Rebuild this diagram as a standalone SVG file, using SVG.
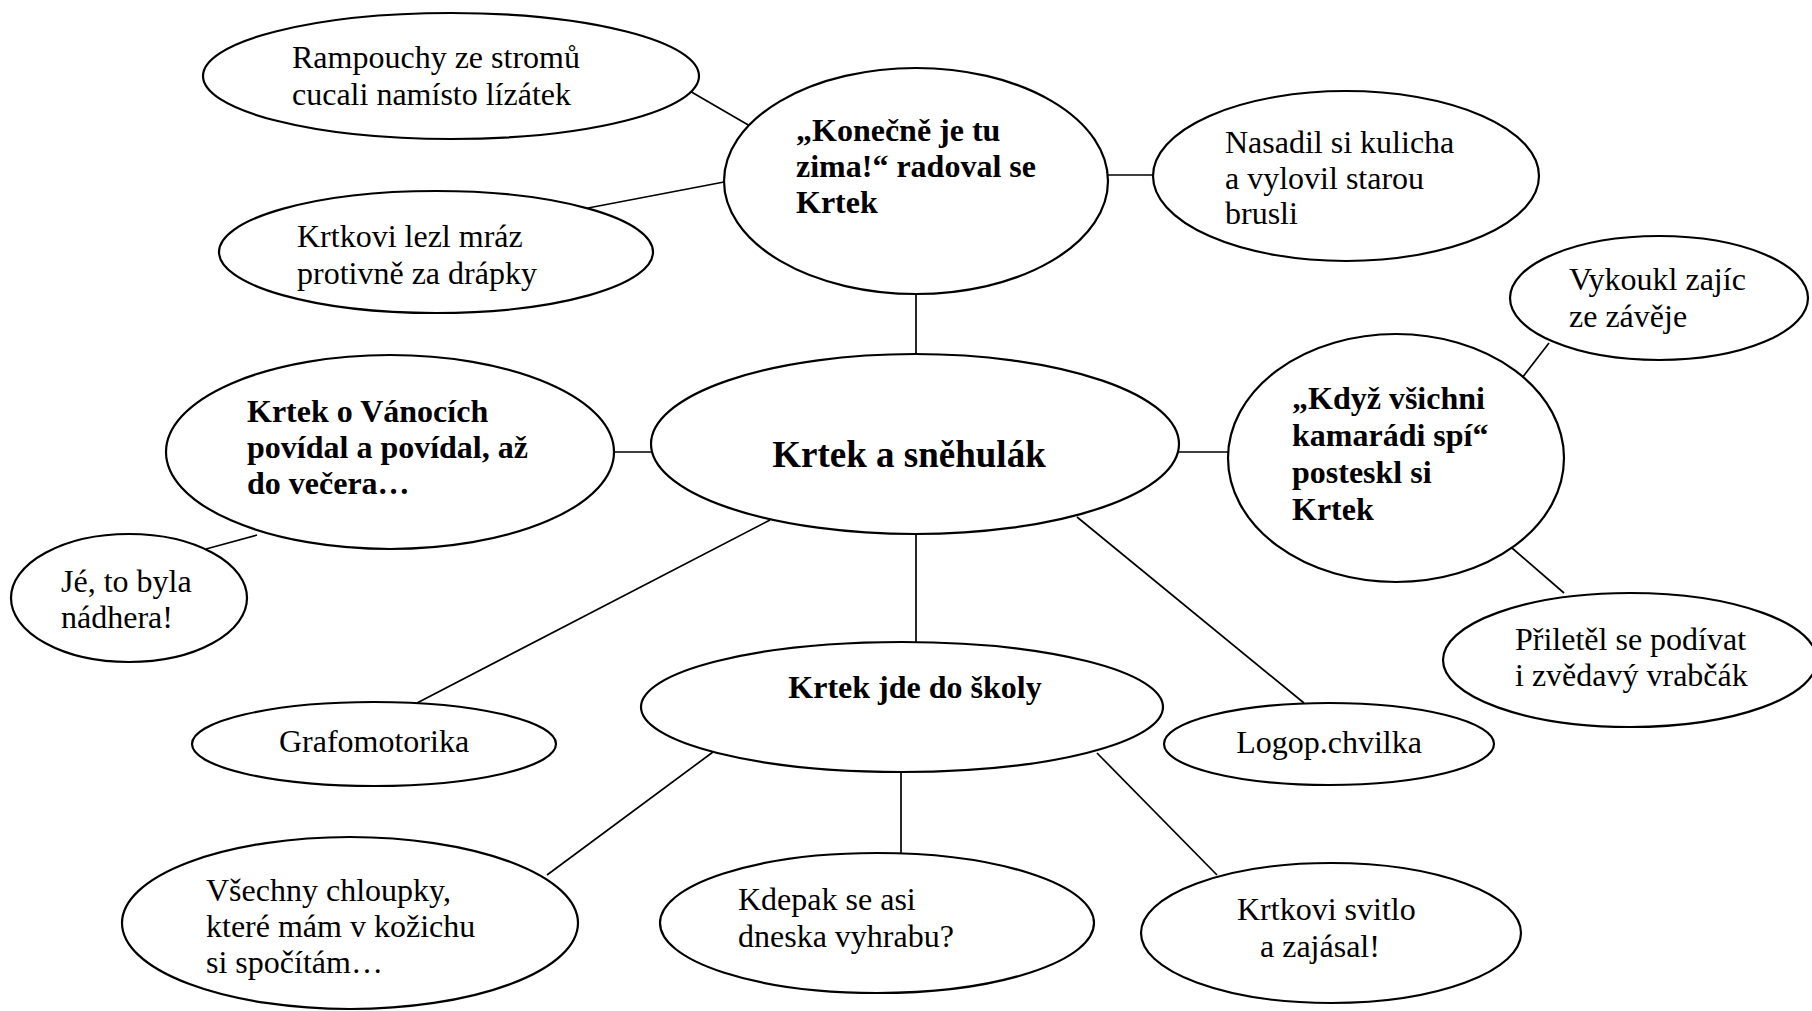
<svg xmlns="http://www.w3.org/2000/svg" width="1812" height="1011" viewBox="0 0 1812 1011">
<style>
  .bg { fill: #ffffff; }
  ellipse { fill: #ffffff; stroke: #000000; stroke-width: 2.2; }
  .conn line { stroke: #000000; stroke-width: 1.7; }
  text { font-family: "Liberation Serif", "Times New Roman", serif; font-size: 32px; fill: #000000; }
  .b { font-weight: bold; }
  .big { font-size: 37px; }
  .m { text-anchor: middle; }
</style>
<rect class="bg" x="0" y="0" width="1812" height="1011"/>

<g id="connectors" class="conn">
  <line x1="688" y1="90" x2="750" y2="126"/>
  <line x1="588" y1="208" x2="724" y2="182"/>
  <line x1="1108" y1="175" x2="1153" y2="175"/>
  <line x1="916" y1="294" x2="916" y2="355"/>
  <line x1="614" y1="452" x2="652" y2="452"/>
  <line x1="257" y1="535" x2="206" y2="549"/>
  <line x1="1179" y1="452" x2="1228" y2="452"/>
  <line x1="1522" y1="378" x2="1549" y2="343"/>
  <line x1="1512" y1="548" x2="1564" y2="593"/>
  <line x1="770" y1="520" x2="417" y2="703"/>
  <line x1="1077" y1="517" x2="1304" y2="703"/>
  <line x1="916" y1="534" x2="916" y2="642"/>
  <line x1="713" y1="752" x2="547" y2="875"/>
  <line x1="901" y1="772" x2="901" y2="853"/>
  <line x1="1097" y1="753" x2="1217" y2="875"/>
</g>

<g id="n-rampouchy">
  <ellipse cx="451" cy="76" rx="248" ry="63"/>
  <text x="292" y="68">Rampouchy ze stromů</text>
  <text x="292" y="105">cucali namísto lízátek</text>
</g>

<g id="n-konecne">
  <ellipse cx="916" cy="181" rx="192" ry="113"/>
  <text class="b" x="796" y="141">„Konečně je tu</text>
  <text class="b" x="796" y="177">zima!“ radoval se</text>
  <text class="b" x="796" y="213">Krtek</text>
</g>

<g id="n-nasadil">
  <ellipse cx="1346" cy="176" rx="193" ry="85"/>
  <text x="1225" y="153">Nasadil si kulicha</text>
  <text x="1225" y="189">a vylovil starou</text>
  <text x="1225" y="224">brusli</text>
</g>

<g id="n-lezl">
  <ellipse cx="436" cy="252" rx="217" ry="61"/>
  <text x="297" y="247">Krtkovi lezl mráz</text>
  <text x="297" y="284">protivně za drápky</text>
</g>

<g id="n-vykoukl">
  <ellipse cx="1659" cy="298" rx="149" ry="62"/>
  <text x="1569" y="290">Vykoukl zajíc</text>
  <text x="1569" y="327">ze závěje</text>
</g>

<g id="n-vanoce">
  <ellipse cx="390" cy="452" rx="224" ry="97"/>
  <text class="b" x="247" y="422">Krtek o Vánocích</text>
  <text class="b" x="247" y="458">povídal a povídal, až</text>
  <text class="b" x="247" y="494">do večera…</text>
</g>

<g id="n-center">
  <ellipse cx="915" cy="444" rx="264" ry="90"/>
  <text class="b big m" x="909" y="467">Krtek a sněhulák</text>
</g>

<g id="n-kdyz">
  <ellipse cx="1396" cy="458" rx="168" ry="124"/>
  <text class="b" x="1292" y="409">„Když všichni</text>
  <text class="b" x="1292" y="446">kamarádi spí“</text>
  <text class="b" x="1292" y="483">posteskl si</text>
  <text class="b" x="1292" y="520">Krtek</text>
</g>

<g id="n-je">
  <ellipse cx="129" cy="598" rx="118" ry="64"/>
  <text x="61" y="592">Jé, to byla</text>
  <text x="61" y="628">nádhera!</text>
</g>

<g id="n-priletel">
  <ellipse cx="1630" cy="660" rx="187" ry="67"/>
  <text x="1515" y="650">Přiletěl se podívat</text>
  <text x="1515" y="686">i zvědavý vrabčák</text>
</g>

<g id="n-skola">
  <ellipse cx="902" cy="707" rx="261" ry="65"/>
  <text class="b m" x="915" y="698">Krtek jde do školy</text>
</g>

<g id="n-grafo">
  <ellipse cx="374" cy="744" rx="182" ry="42"/>
  <text class="m" x="374" y="752">Grafomotorika</text>
</g>

<g id="n-logop">
  <ellipse cx="1329" cy="744" rx="165" ry="41"/>
  <text class="m" x="1329" y="753">Logop.chvilka</text>
</g>

<g id="n-vsechny">
  <ellipse cx="350" cy="923" rx="228" ry="86"/>
  <text x="206" y="901">Všechny chloupky,</text>
  <text x="206" y="937">které mám v kožichu</text>
  <text x="206" y="973">si spočítám…</text>
</g>

<g id="n-kdepak">
  <ellipse cx="877" cy="923" rx="217" ry="70"/>
  <text x="738" y="910">Kdepak se asi</text>
  <text x="738" y="947">dneska vyhrabu?</text>
</g>

<g id="n-svitlo">
  <ellipse cx="1331" cy="933" rx="190" ry="70"/>
  <text x="1237" y="920">Krtkovi svitlo</text>
  <text x="1260" y="957">a zajásal!</text>
</g>
</svg>
